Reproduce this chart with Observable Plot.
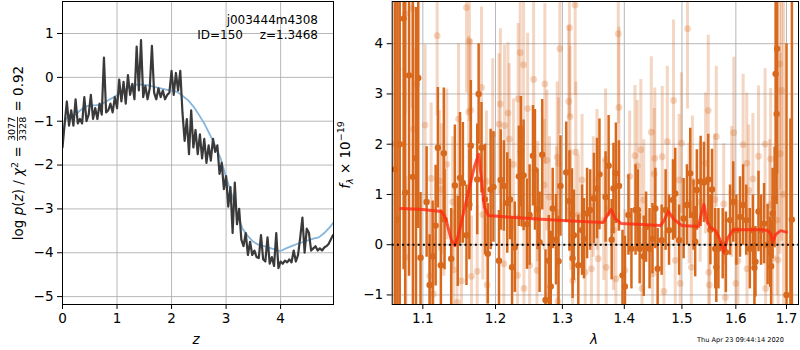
<!DOCTYPE html>
<html><head><meta charset="utf-8">
<script src="https://cdn.jsdelivr.net/npm/d3@7"></script>
<script src="https://cdn.jsdelivr.net/npm/@observablehq/plot@0.6"></script>
<style>
body{margin:0;background:#fff;}
#wrap{position:relative;width:800px;height:350px;background:#fff;}
#wrap svg{position:absolute;top:0;overflow:visible;background:none;}
</style></head><body><div id="wrap"></div>
<script>
// ---------- Left panel: log p(z) ----------
const zDark = [0,0.04,0.08,0.12,0.16,0.2,0.24,0.28,0.32,0.36,0.4,0.44,0.48,0.52,0.56,0.6,0.64,0.68,0.72,0.76,0.8,0.84,0.88,0.92,0.96,1,1.04,1.08,1.12,1.16,1.2,1.24,1.28,1.32,1.36,1.4,1.44,1.48,1.52,1.56,1.6,1.64,1.68,1.72,1.76,1.8,1.84,1.88,1.92,1.96,2,2.04,2.08,2.12,2.16,2.2,2.24,2.28,2.32,2.36,2.4,2.44,2.48,2.52,2.56,2.6,2.64,2.68,2.72,2.76,2.8,2.84,2.88,2.92,2.96,3,3.04,3.08,3.12,3.16,3.2,3.24,3.28,3.32,3.36,3.4,3.44,3.48,3.52,3.56,3.6,3.64,3.68,3.72,3.76,3.8,3.84,3.88,3.92,3.96,4,4.04,4.08,4.12,4.16,4.2,4.24,4.28,4.32,4.36,4.4,4.44,4.48,4.52,4.56,4.6,4.64,4.68,4.72,4.76,4.8,4.84,4.88,4.92,4.96];
const lnpDark = [-1.60,-1.05,-0.55,-1.10,-0.75,-1.10,-0.50,-1.05,-0.95,-1.05,-0.45,-1.00,-0.85,-0.40,-0.95,-0.70,-0.95,-0.60,-0.85,0.45,-0.80,-0.75,-0.60,-0.80,-0.45,-0.70,-0.05,-0.55,-0.10,-0.60,0.05,-0.40,-0.15,-0.50,0.70,-0.30,0.85,-0.45,-0.20,-0.50,-0.25,0.72,-0.35,-0.50,-0.25,-0.45,-0.30,-0.50,-0.40,-0.35,0.15,-0.40,0.10,-0.30,0.15,-0.80,-1.45,-0.95,-1.75,-0.75,-1.60,-1.20,-1.75,-1.30,-1.85,-1.40,-1.95,-1.55,-1.90,-1.40,-1.70,-1.55,-2.20,-1.95,-2.55,-2.25,-2.95,-2.50,-3.55,-2.40,-3.35,-3.00,-3.70,-3.85,-3.55,-4.05,-3.75,-4.05,-3.95,-4.10,-4.12,-3.60,-4.15,-4.20,-3.65,-4.25,-4.10,-4.30,-3.55,-4.35,-4.20,-4.25,-4.18,-4.22,-4.15,-4.22,-3.95,-4.20,-4.05,-3.65,-3.20,-4.00,-3.45,-3.55,-3.95,-3.90,-3.85,-3.95,-3.90,-3.95,-3.88,-3.85,-3.80,-3.70,-3.60];
const zSmooth = [0,0.05,0.1,0.15,0.25,0.3,0.4,0.5,0.6,0.7,0.8,0.9,1.0,1.1,1.2,1.3,1.4,1.5,1.6,1.7,1.8,1.9,2.0,2.1,2.2,2.3,2.4,2.5,2.6,2.7,2.8,2.9,3.0,3.1,3.2,3.3,3.4,3.5,3.6,3.7,3.8,3.9,4.0,4.1,4.2,4.3,4.4,4.5,4.6,4.7,4.8,4.9,4.97];
const lnpSmooth = [-1.25,-1.0,-0.88,-0.85,-0.85,-0.78,-0.68,-0.64,-0.64,-0.62,-0.55,-0.48,-0.40,-0.32,-0.24,-0.18,-0.16,-0.17,-0.19,-0.22,-0.25,-0.28,-0.30,-0.33,-0.42,-0.52,-0.66,-0.85,-1.05,-1.30,-1.55,-1.85,-2.28,-2.65,-3.10,-3.45,-3.62,-3.75,-3.82,-3.85,-3.89,-3.93,-3.96,-3.90,-3.85,-3.80,-3.76,-3.72,-3.68,-3.65,-3.55,-3.42,-3.31];
const zTicks = [0,1,2,3,4];
const lnpTicks = [-5,-4,-3,-2,-1,0,1];

// ---------- Right panel: spectrum ----------
const lamDark = [1.064,1.067,1.070,1.075,1.077,1.082,1.087,1.091,1.094,1.097,1.105,1.109,1.113,1.117,1.120,1.124,1.128,1.129,1.138,1.143,1.147,1.150,1.154,1.159,1.163,1.165,1.174,1.176,1.180,1.185,1.189,1.193,1.197,1.205,1.2075,1.212,1.217,1.221,1.224,1.228,1.234,1.237,1.238,1.241,1.246,1.250,1.255,1.258,1.262,1.265,1.269,1.274,1.279,1.282,1.285,1.290,1.294,1.297,1.306,1.311,1.315,1.316,1.318,1.325,1.331,1.334,1.339,1.344,1.350,1.355,1.359,1.369,1.374,1.379,1.382,1.386,1.391,1.397,1.401,1.407,1.412,1.419,1.423,1.426,1.433,1.437,1.443,1.448,1.453,1.457,1.464,1.471,1.477,1.484,1.488,1.495,1.503,1.509,1.515,1.521,1.524,1.527,1.534,1.540,1.548,1.552,1.555,1.561,1.563,1.567,1.575,1.581,1.589,1.595,1.601,1.608,1.614,1.620,1.627,1.633,1.636,1.638,1.644,1.649,1.655,1.662,1.667,1.669,1.672,1.676,1.678,1.680,1.681,1.700,1.708,1.711];
const fluxDark = [1.5,0.5,2.0,4.5,1.04,3.37,1.35,1.72,3.32,-0.26,0.85,-0.80,-0.23,0.38,1.93,-0.41,1.82,0.50,-0.28,1.18,0.07,1.33,1.23,0.19,0.80,1.97,1.30,3.00,1.93,0.90,-0.18,1.10,1.15,-0.32,1.29,1.17,0.83,0.90,-0.45,-0.05,1.36,1.85,1.35,1.38,0.41,0.59,1.77,1.49,0.70,0.05,1.79,-1.10,-0.32,-0.83,0.72,0.10,-0.33,1.17,1.44,0.87,0.61,-0.27,0.19,-0.41,0.29,0.12,0.62,0.69,0.92,1.12,1.40,0.95,1.57,0.10,1.12,1.42,1.17,-0.61,-0.83,0.59,-0.08,0.69,0.69,-0.08,-0.23,0.35,-0.08,0.12,0.72,-0.48,0.09,0.69,0.29,0.89,1.02,0.09,0.52,0.79,1.42,0.59,0.06,1.09,1.26,1.24,1.30,0.30,1.10,-0.08,-0.45,-0.08,0.02,-0.15,0.49,0.85,0.29,0.55,0.79,0.49,-0.08,0.29,-0.46,-0.34,0.66,0.29,0.42,0.00,-0.15,-0.43,0.62,0.94,3.40,2.60,3.90,-1.0,-1.7,0.5];
const errDark = [6,6,6,5,5,4,4,3,3,1.3,1.1,1.0,1.1,1.2,1.2,1.1,1.3,1.0,1.0,1.2,0.9,1.3,1.2,1.0,1.1,1.3,1.1,1.0,0.9,1.1,1.0,1.2,1.1,1.0,1.0,0.9,1.0,0.8,1.0,0.9,1.0,1.1,1.0,1.1,0.9,1.0,1.0,1.2,0.8,1.0,1.1,1.0,0.9,1.1,0.8,0.9,0.9,1.0,1.0,1.0,0.9,0.8,0.9,1.0,0.9,0.8,0.9,0.8,0.9,1.0,1.1,0.9,1.0,0.8,0.9,1.0,0.9,0.9,1.0,0.8,0.8,0.9,0.8,0.7,0.8,0.7,0.8,0.7,0.8,0.8,0.7,0.8,0.7,0.8,0.9,0.7,0.8,0.8,0.9,0.7,0.7,0.8,0.9,0.8,0.9,0.7,0.8,0.8,0.7,0.8,0.7,0.8,0.7,0.8,0.7,0.8,0.8,0.7,0.8,0.7,0.8,0.7,0.8,0.7,0.8,0.8,0.7,0.9,0.9,1.0,1.6,1.8,2.5,5,4.2,6];

const lamLight = [1.063,1.068,1.077,1.078,1.086,1.088,1.092,1.103,1.109,1.111,1.114,1.119,1.122,1.125,1.128,1.132,1.140,1.141,1.146,1.148,1.152,1.159,1.162,1.163,1.165,1.166,1.174,1.180,1.182,1.187,1.188,1.196,1.205,1.207,1.212,1.213,1.218,1.220,1.226,1.232,1.233,1.236,1.241,1.2415,1.247,1.250,1.256,1.261,1.262,1.272,1.273,1.276,1.280,1.291,1.292,1.293,1.294,1.296,1.310,1.311,1.312,1.313,1.316,1.320,1.321,1.325,1.331,1.336,1.346,1.349,1.355,1.357,1.366,1.369,1.370,1.382,1.386,1.390,1.391,1.401,1.409,1.418,1.422,1.428,1.430,1.433,1.446,1.448,1.451,1.452,1.465,1.468,1.474,1.485,1.488,1.495,1.497,1.499,1.510,1.513,1.517,1.519,1.533,1.543,1.548,1.549,1.550,1.560,1.563,1.577,1.580,1.592,1.596,1.600,1.604,1.614,1.621,1.6215,1.625,1.633,1.644,1.657,1.658,1.666,1.668,1.672,1.681,1.683,1.686,1.687,1.690,1.694];
const fluxLight = [2.0,3.5,4.6,-0.25,4.7,2.30,3.20,2.38,-0.62,1.32,-0.98,4.16,1.27,1.10,0.57,1.60,0.85,-0.50,-1.15,2.50,-0.72,4.72,2.64,4.05,2.68,-0.63,-0.53,3.13,0.60,1.26,-0.80,2.20,2.40,2.80,-0.38,2.37,2.62,2.10,1.60,-0.61,2.90,3.82,3.58,-0.87,2.71,-0.41,3.29,-0.51,0.86,1.19,3.20,1.68,0.95,0.65,1.74,-1.13,1.62,3.90,2.85,4.32,2.55,0.69,-0.71,4.77,1.84,0.59,1.29,-0.55,-0.48,0.95,1.29,-0.28,0.49,1.70,-0.45,0.29,-0.68,4.20,2.73,-0.51,1.36,1.77,1.57,1.89,-0.87,0.89,2.24,-0.58,1.41,1.72,1.75,-0.93,2.05,2.87,-0.31,1.29,-0.77,2.02,4.30,0.82,-0.45,1.26,0.85,1.62,2.67,-0.55,-0.80,0.90,2.15,0.81,-1.05,1.05,2.23,-0.77,-0.32,1.99,1.62,-0.48,1.08,1.31,1.76,2.00,-0.87,0.79,1.71,-0.27,0.49,-0.30,3.60,1.81,3.07,1.0];
const errLight = [6,6,2,1.6,2,1.6,1.5,1.6,1.3,1.5,1.2,1.6,1.4,1.3,1.2,1.5,1.3,1.2,1.2,1.5,1.3,1.7,1.5,1.6,1.4,1.2,1.3,1.6,1.3,1.4,1.2,1.5,1.4,1.5,1.2,1.6,1.4,1.5,1.3,1.2,1.5,1.7,1.6,1.3,1.5,1.2,1.6,1.3,1.2,1.3,1.6,1.4,1.2,1.3,1.5,1.2,1.3,1.7,1.5,1.8,1.4,1.2,1.3,1.8,1.4,1.2,1.3,1.2,1.3,1.2,1.4,1.2,1.2,1.4,1.2,1.2,1.3,1.8,1.6,1.2,1.3,1.4,1.3,1.4,1.2,1.2,1.5,1.2,1.3,1.4,1.4,1.2,1.5,1.6,1.2,1.3,1.2,1.4,1.6,1.2,1.2,1.3,1.2,1.4,1.5,1.2,1.2,1.3,1.4,1.2,1.2,1.3,1.5,1.2,1.2,1.4,1.4,1.2,1.3,1.3,1.4,1.5,1.2,1.3,1.4,1.2,1.5,1.4,2.5,2.0,3,5];

const lamModel = [1.071,1.100,1.125,1.131,1.138,1.143,1.148,1.160,1.170,1.176,1.180,1.184,1.190,1.250,1.300,1.365,1.372,1.378,1.385,1.395,1.462,1.468,1.476,1.486,1.500,1.530,1.535,1.540,1.546,1.552,1.562,1.570,1.577,1.584,1.595,1.650,1.662,1.668,1.672,1.678,1.688,1.700];
const fluxModel = [0.72,0.70,0.66,0.50,0.10,-0.02,0.20,0.95,1.55,1.80,1.30,0.75,0.58,0.52,0.48,0.44,0.58,0.70,0.52,0.42,0.38,0.48,0.66,0.50,0.38,0.36,0.60,0.80,0.45,0.34,0.28,0.10,-0.15,0.12,0.30,0.30,0.28,0.22,0.05,0.20,0.28,0.25];
const lamTicks = [1.1,1.2,1.3,1.4,1.5,1.6,1.7];
const fluxTicks = [-1,0,1,2,3,4];

const dark = zDark.map((z, i) => ({z, v: lnpDark[i]}));
const smooth = zSmooth.map((z, i) => ({z, v: lnpSmooth[i]}));
const specD = lamDark.map((x, i) => ({x, f: fluxDark[i], e: errDark[i]}));
const specL = lamLight.map((x, i) => ({x, f: fluxLight[i], e: errLight[i]}));
const model = lamModel.map((x, i) => ({x, f: fluxModel[i]}));

const FONT = "DejaVu Sans";
const orange = "#d8691c";
const gridColor = "#b0b0b0";
const intFmt = d3.format("d");

const left = Plot.plot({
  width: 335, height: 350, marginLeft: 62, marginRight: 2, marginTop: 1, marginBottom: 46,
  style: {fontFamily: FONT, fontSize: "13.5px", color: "black", background: "none"},
  x: {domain: [0, 4.97]},
  y: {domain: [-5.18, 1.73]},
  marks: [
    Plot.gridX(zTicks, {stroke: gridColor, strokeOpacity: 1, strokeWidth: 0.9}),
    Plot.gridY(lnpTicks, {stroke: gridColor, strokeOpacity: 1, strokeWidth: 0.9}),
    Plot.line(smooth, {x: "z", y: "v", stroke: "#86b5dc", strokeWidth: 1.8, clip: true}),
    Plot.line(dark, {x: "z", y: "v", stroke: "#3a3a3a", strokeWidth: 2.2, strokeLinejoin: "round", clip: true}),
    Plot.axisX({ticks: zTicks, tickFormat: intFmt, tickSize: 5, tickPadding: 4, label: null}),
    Plot.axisY({ticks: lnpTicks, tickFormat: intFmt, tickSize: 5, tickPadding: 4, label: null}),
    Plot.frame({stroke: "black", strokeWidth: 1})
  ]
});

const right = Plot.plot({
  width: 465, height: 350, marginLeft: 56.7, marginRight: 2, marginTop: 1, marginBottom: 46,
  style: {fontFamily: FONT, fontSize: "13.5px", color: "black", background: "none"},
  x: {type: "log", domain: [1.0604, 1.7246]},
  y: {domain: [-1.19, 4.84]},
  marks: [
    Plot.gridX(lamTicks, {stroke: gridColor, strokeOpacity: 1, strokeWidth: 0.9}),
    Plot.gridY(fluxTicks, {stroke: gridColor, strokeOpacity: 1, strokeWidth: 0.9}),
    Plot.ruleX(specL, {x: "x", y1: d => d.f - d.e, y2: d => d.f + d.e, stroke: orange, strokeOpacity: 0.27, strokeWidth: 3, clip: true}),
    Plot.dot(specL, {x: "x", y: "f", r: 3.4, fill: orange, fillOpacity: 0.27, stroke: "none", clip: true}),
    Plot.ruleX(specD, {x: "x", y1: d => d.f - d.e, y2: d => d.f + d.e, stroke: orange, strokeWidth: 2.5, clip: true}),
    Plot.dot(specD, {x: "x", y: "f", r: 3.2, fill: orange, stroke: "none", clip: true}),
    Plot.line(model, {x: "x", y: "f", stroke: "#ff2a12", strokeOpacity: 0.8, strokeWidth: 3, clip: true}),
    Plot.ruleY([0], {stroke: "black", strokeWidth: 2, strokeDasharray: "2,3.2"}),
    Plot.axisX({ticks: lamTicks, tickFormat: d3.format(".1f"), tickSize: 5, tickPadding: 4, label: null}),
    Plot.axisY({ticks: fluxTicks, tickFormat: intFmt, tickSize: 5, tickPadding: 4, label: null}),
    Plot.frame({stroke: "black", strokeWidth: 1})
  ]
});

const wrap = document.getElementById("wrap");
left.style.left = "0px";
right.style.left = "335px";
wrap.appendChild(left);
wrap.appendChild(right);

// ---- left panel texts ----
const L = d3.select(left);
const tg = L.append("g").attr("font-family", FONT).attr("font-size", 12).attr("fill", "black").attr("text-anchor", "end");
tg.append("text").attr("x", 318).attr("y", 24).text("j003444m4308");
tg.append("text").attr("x", 243).attr("y", 38.5).text("ID=150");
tg.append("text").attr("x", 318).attr("y", 38.5).text("z=1.3468");

L.append("text").attr("x", 196).attr("y", 344).attr("text-anchor", "middle")
  .attr("font-family", FONT).attr("font-size", 13.5).attr("font-style", "italic").text("z");

// y label with fraction
const yg = L.append("g").attr("font-family", FONT).attr("font-size", 13.5).attr("fill", "black").attr("text-anchor", "start");
const p1 = yg.append("text").attr("text-anchor", "start");
p1.append("tspan").text("log ");
p1.append("tspan").attr("font-style", "italic").text("p");
p1.append("tspan").text("(");
p1.append("tspan").attr("font-style", "italic").text("z");
p1.append("tspan").text(")\u00a0/\u00a0");
p1.append("tspan").attr("font-style", "italic").text("χ");
p1.append("tspan").attr("font-size", 9.5).attr("dy", -5).text("2");
p1.append("tspan").attr("dy", 5).text("\u00a0=\u00a0");
const num = yg.append("text").attr("font-size", 9.5).attr("text-anchor", "middle").text("3077");
const den = yg.append("text").attr("font-size", 9.5).attr("text-anchor", "middle").text("3328");
const p3 = yg.append("text").attr("text-anchor", "start").text("\u00a0=\u00a00.92");
const l1 = p1.node().getComputedTextLength();
const fw = Math.max(num.node().getComputedTextLength(), den.node().getComputedTextLength()) + 2;
const l3 = p3.node().getComputedTextLength();
const total = l1 + fw + l3;
const ys = 153 + total / 2;
const bx = 23;
p1.attr("transform", `translate(${bx},${ys}) rotate(-90)`);
const yc = ys - l1 - fw / 2;
num.attr("transform", `translate(${bx - 8},${yc}) rotate(-90)`);
den.attr("transform", `translate(${bx + 2.5},${yc}) rotate(-90)`);
yg.append("line").attr("x1", bx - 5.5).attr("x2", bx - 5.5).attr("y1", yc - fw / 2 + 1).attr("y2", yc + fw / 2 - 1)
  .attr("stroke", "black").attr("stroke-width", 0.8);
p3.attr("transform", `translate(${bx},${ys - l1 - fw}) rotate(-90)`);

// ---- right panel texts ----
const R = d3.select(right);
R.append("text").attr("x", 594 - 335).attr("y", 344).attr("text-anchor", "middle")
  .attr("font-family", FONT).attr("font-size", 13.5).attr("font-style", "italic").text("λ");
const ry = R.append("text").attr("transform", "translate(15,155) rotate(-90)").attr("text-anchor", "middle")
  .attr("font-family", FONT).attr("font-size", 13.5);
ry.append("tspan").attr("font-style", "italic").text("f");
ry.append("tspan").attr("font-style", "italic").attr("font-size", 9.5).attr("dy", 3).text("λ");
ry.append("tspan").attr("dy", -3).text("\u00a0×\u00a010");
ry.append("tspan").attr("font-size", 9.5).attr("dy", -6).text("−19");
R.append("text").attr("x", 697 - 335).attr("y", 342).attr("text-anchor", "start")
  .attr("font-family", FONT).attr("font-size", 6.6).text("Thu Apr 23 09:44:14 2020");
</script>
</body></html>
